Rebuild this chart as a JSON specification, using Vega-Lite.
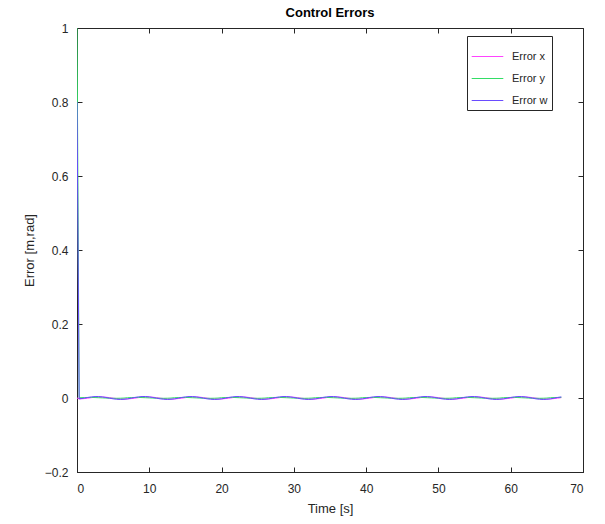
{
"$schema": "https://vega.github.io/schema/vega-lite/v6.json",
"autosize": {"type": "none"},
"padding": {"left": 77, "top": 28, "right": 22, "bottom": 52},
"width": 506,
"height": 444,
"background": "white",
"title": {"text": "Control Errors", "font": "Liberation Sans", "fontSize": 13, "fontWeight": "bold", "color": "#000000", "offset": 2},
"config": {
  "view": {"stroke": "#262626", "strokeWidth": 1},
  "axis": {"grid": false, "labelFont": "Liberation Sans", "titleFont": "Liberation Sans", "labelFontSize": 12, "titleFontSize": 13, "labelColor": "#262626", "titleColor": "#262626", "domainColor": "#262626", "tickColor": "#262626", "titleFontWeight": "normal"}
},
"data": {"values": [
{"t":0,"x":0,"y":1,"w":0.8},
{"t":0.3,"x":-0.0025,"y":0.0008,"w":-0.0023},
{"t":1,"x":-0.0016,"y":0.0012,"w":-0.0005},
{"t":1.5,"x":-0.0004,"y":0.0015,"w":0.0014},
{"t":2,"x":0.001,"y":0.0015,"w":0.003},
{"t":2.5,"x":0.0021,"y":0.0012,"w":0.0039},
{"t":3,"x":0.0027,"y":0.0008,"w":0.0039},
{"t":3.5,"x":0.0027,"y":0.0003,"w":0.003},
{"t":4,"x":0.0021,"y":-0.0002,"w":0.0014},
{"t":4.5,"x":0.001,"y":-0.0006,"w":-0.0005},
{"t":5,"x":-0.0004,"y":-0.0008,"w":-0.0023},
{"t":5.5,"x":-0.0016,"y":-0.0008,"w":-0.0035},
{"t":6,"x":-0.0025,"y":-0.0006,"w":-0.004},
{"t":6.5,"x":-0.0028,"y":-0.0002,"w":-0.0035},
{"t":7,"x":-0.0025,"y":0.0008,"w":-0.0023},
{"t":7.5,"x":-0.0016,"y":0.0012,"w":-0.0005},
{"t":8,"x":-0.0004,"y":0.0015,"w":0.0014},
{"t":8.5,"x":0.001,"y":0.0015,"w":0.0031},
{"t":9,"x":0.0021,"y":0.0012,"w":0.004},
{"t":9.5,"x":0.0027,"y":0.0008,"w":0.004},
{"t":10,"x":0.0027,"y":0.0003,"w":0.0031},
{"t":10.5,"x":0.0021,"y":-0.0002,"w":0.0014},
{"t":11,"x":0.001,"y":-0.0006,"w":-0.0005},
{"t":11.5,"x":-0.0004,"y":-0.0008,"w":-0.0023},
{"t":12,"x":-0.0016,"y":-0.0008,"w":-0.0035},
{"t":12.5,"x":-0.0025,"y":-0.0006,"w":-0.004},
{"t":13,"x":-0.0028,"y":-0.0002,"w":-0.0035},
{"t":13.5,"x":-0.0025,"y":0.0008,"w":-0.0023},
{"t":14,"x":-0.0016,"y":0.0012,"w":-0.0005},
{"t":14.5,"x":-0.0004,"y":0.0015,"w":0.0014},
{"t":15,"x":0.001,"y":0.0015,"w":0.003},
{"t":15.5,"x":0.0021,"y":0.0012,"w":0.0039},
{"t":16,"x":0.0027,"y":0.0008,"w":0.0039},
{"t":16.5,"x":0.0027,"y":0.0003,"w":0.003},
{"t":17,"x":0.0021,"y":-0.0002,"w":0.0014},
{"t":17.5,"x":0.001,"y":-0.0006,"w":-0.0005},
{"t":18,"x":-0.0004,"y":-0.0008,"w":-0.0023},
{"t":18.5,"x":-0.0016,"y":-0.0008,"w":-0.0035},
{"t":19,"x":-0.0025,"y":-0.0006,"w":-0.004},
{"t":19.5,"x":-0.0028,"y":-0.0002,"w":-0.0035},
{"t":20,"x":-0.0025,"y":0.0008,"w":-0.0023},
{"t":20.5,"x":-0.0016,"y":0.0012,"w":-0.0005},
{"t":21,"x":-0.0004,"y":0.0015,"w":0.0014},
{"t":21.5,"x":0.001,"y":0.0015,"w":0.003},
{"t":22,"x":0.0021,"y":0.0012,"w":0.0039},
{"t":22.5,"x":0.0027,"y":0.0008,"w":0.0039},
{"t":23,"x":0.0027,"y":0.0003,"w":0.003},
{"t":23.5,"x":0.0021,"y":-0.0002,"w":0.0014},
{"t":24,"x":0.001,"y":-0.0006,"w":-0.0005},
{"t":24.5,"x":-0.0004,"y":-0.0008,"w":-0.0023},
{"t":25,"x":-0.0016,"y":-0.0008,"w":-0.0035},
{"t":25.5,"x":-0.0025,"y":-0.0006,"w":-0.004},
{"t":26,"x":-0.0028,"y":-0.0002,"w":-0.0035},
{"t":26.5,"x":-0.0025,"y":0.0008,"w":-0.0023},
{"t":27,"x":-0.0016,"y":0.0012,"w":-0.0005},
{"t":27.5,"x":-0.0004,"y":0.0015,"w":0.0014},
{"t":28,"x":0.001,"y":0.0015,"w":0.003},
{"t":28.5,"x":0.0021,"y":0.0012,"w":0.0039},
{"t":29,"x":0.0027,"y":0.0008,"w":0.0039},
{"t":29.5,"x":0.0027,"y":0.0003,"w":0.003},
{"t":30,"x":0.0021,"y":-0.0002,"w":0.0014},
{"t":30.5,"x":0.001,"y":-0.0006,"w":-0.0005},
{"t":31,"x":-0.0004,"y":-0.0008,"w":-0.0023},
{"t":31.5,"x":-0.0016,"y":-0.0008,"w":-0.0035},
{"t":32,"x":-0.0025,"y":-0.0006,"w":-0.004},
{"t":32.5,"x":-0.0028,"y":-0.0002,"w":-0.0035},
{"t":33,"x":-0.0025,"y":0.0008,"w":-0.0023},
{"t":33.5,"x":-0.0016,"y":0.0012,"w":-0.0005},
{"t":34,"x":-0.0004,"y":0.0015,"w":0.0014},
{"t":34.5,"x":0.001,"y":0.0015,"w":0.003},
{"t":35,"x":0.0021,"y":0.0012,"w":0.0039},
{"t":35.5,"x":0.0027,"y":0.0008,"w":0.0039},
{"t":36,"x":0.0027,"y":0.0003,"w":0.003},
{"t":36.5,"x":0.0021,"y":-0.0002,"w":0.0014},
{"t":37,"x":0.001,"y":-0.0006,"w":-0.0005},
{"t":37.5,"x":-0.0004,"y":-0.0008,"w":-0.0023},
{"t":38,"x":-0.0016,"y":-0.0008,"w":-0.0035},
{"t":38.5,"x":-0.0025,"y":-0.0006,"w":-0.004},
{"t":39,"x":-0.0028,"y":-0.0002,"w":-0.0035},
{"t":39.5,"x":-0.0025,"y":0.0008,"w":-0.0023},
{"t":40,"x":-0.0016,"y":0.0012,"w":-0.0005},
{"t":40.5,"x":-0.0004,"y":0.0015,"w":0.0014},
{"t":41,"x":0.001,"y":0.0015,"w":0.003},
{"t":41.5,"x":0.0021,"y":0.0012,"w":0.0039},
{"t":42,"x":0.0027,"y":0.0008,"w":0.0039},
{"t":42.5,"x":0.0027,"y":0.0003,"w":0.003},
{"t":43,"x":0.0021,"y":-0.0002,"w":0.0014},
{"t":43.5,"x":0.001,"y":-0.0006,"w":-0.0005},
{"t":44,"x":-0.0004,"y":-0.0008,"w":-0.0023},
{"t":44.5,"x":-0.0016,"y":-0.0008,"w":-0.0035},
{"t":45,"x":-0.0025,"y":-0.0006,"w":-0.004},
{"t":45.5,"x":-0.0028,"y":-0.0002,"w":-0.0035},
{"t":46,"x":-0.0025,"y":0.0008,"w":-0.0023},
{"t":46.5,"x":-0.0016,"y":0.0012,"w":-0.0005},
{"t":47,"x":-0.0004,"y":0.0015,"w":0.0014},
{"t":47.5,"x":0.001,"y":0.0015,"w":0.003},
{"t":48,"x":0.0021,"y":0.0012,"w":0.0039},
{"t":48.5,"x":0.0027,"y":0.0008,"w":0.0039},
{"t":49,"x":0.0027,"y":0.0003,"w":0.003},
{"t":49.5,"x":0.0021,"y":-0.0002,"w":0.0014},
{"t":50,"x":0.001,"y":-0.0006,"w":-0.0005},
{"t":50.5,"x":-0.0004,"y":-0.0008,"w":-0.0023},
{"t":51,"x":-0.0016,"y":-0.0008,"w":-0.0035},
{"t":51.5,"x":-0.0025,"y":-0.0006,"w":-0.004},
{"t":52,"x":-0.0028,"y":-0.0002,"w":-0.0035},
{"t":52.5,"x":-0.0025,"y":0.0008,"w":-0.0023},
{"t":53,"x":-0.0016,"y":0.0012,"w":-0.0005},
{"t":53.5,"x":-0.0004,"y":0.0015,"w":0.0014},
{"t":54,"x":0.001,"y":0.0015,"w":0.003},
{"t":54.5,"x":0.0021,"y":0.0012,"w":0.0039},
{"t":55,"x":0.0027,"y":0.0008,"w":0.0039},
{"t":55.5,"x":0.0027,"y":0.0003,"w":0.003},
{"t":56,"x":0.0021,"y":-0.0002,"w":0.0014},
{"t":56.5,"x":0.001,"y":-0.0006,"w":-0.0005},
{"t":57,"x":-0.0004,"y":-0.0008,"w":-0.0023},
{"t":57.5,"x":-0.0016,"y":-0.0008,"w":-0.0035},
{"t":58,"x":-0.0025,"y":-0.0006,"w":-0.004},
{"t":58.5,"x":-0.0028,"y":-0.0002,"w":-0.0035},
{"t":59,"x":-0.0025,"y":0.0008,"w":-0.0023},
{"t":59.5,"x":-0.0016,"y":0.0012,"w":-0.0005},
{"t":60,"x":-0.0004,"y":0.0015,"w":0.0014},
{"t":60.5,"x":0.001,"y":0.0015,"w":0.003},
{"t":61,"x":0.0021,"y":0.0012,"w":0.0039},
{"t":61.5,"x":0.0027,"y":0.0008,"w":0.0039},
{"t":62,"x":0.0027,"y":0.0003,"w":0.003},
{"t":62.5,"x":0.0021,"y":-0.0002,"w":0.0014},
{"t":63,"x":0.001,"y":-0.0006,"w":-0.0005},
{"t":63.5,"x":-0.0004,"y":-0.0008,"w":-0.0023},
{"t":64,"x":-0.0016,"y":-0.0008,"w":-0.0035},
{"t":64.5,"x":-0.0025,"y":-0.0006,"w":-0.004},
{"t":65,"x":-0.0028,"y":-0.0002,"w":-0.0035},
{"t":65.5,"x":-0.0025,"y":0.0008,"w":-0.0023},
{"t":66,"x":-0.0016,"y":0.0012,"w":-0.0005},
{"t":66.5,"x":-0.0004,"y":0.0015,"w":0.0014},
{"t":67,"x":0.001,"y":0.0015,"w":0.003}
]},
"transform": [
  {"fold": ["x", "y", "w"], "as": ["k", "v"]},
  {"lookup": "k", "from": {"data": {"values": [{"k": "x", "series": "Error x"}, {"k": "y", "series": "Error y"}, {"k": "w", "series": "Error w"}]}, "key": "k", "fields": ["series"]}}
],
"layer": [
  {
    "mark": {"type": "line", "strokeWidth": 1, "clip": true},
    "encoding": {
      "x": {"field": "t", "type": "quantitative", "scale": {"domain": [0, 70], "nice": false, "zero": false},
            "axis": {"orient": "bottom", "values": [0,10,20,30,40,50,60,70], "tickSize": -5, "labelPadding": 16, "domain": true, "title": "Time [s]", "titlePadding": 8}},
      "y": {"field": "v", "type": "quantitative", "scale": {"domain": [-0.2, 1], "nice": false, "zero": false},
            "axis": {"orient": "left", "values": [-0.2,0,0.2,0.4,0.6,0.8,1], "format": "~g", "tickSize": -5, "labelPadding": 14, "domain": true, "title": "Error [m,rad]", "titlePadding": 8}},
      "color": {"field": "series", "type": "nominal",
        "scale": {"domain": ["Error x", "Error y", "Error w"], "range": ["#ff44ff", "#33dd66", "#6a4cff"]},
        "legend": {"orient": "none", "legendX": 390, "legendY": 8, "title": null, "symbolType": "stroke", "symbolSize": 1000, "symbolStrokeWidth": 1, "labelFont": "Liberation Sans", "labelFontSize": 11, "labelColor": "#262626", "strokeColor": "#262626", "fillColor": "white", "padding": 4, "rowPadding": -1, "labelOffset": 8}}
    }
  },
  {
    "mark": {"type": "point", "opacity": 0},
    "encoding": {
      "x": {"field": "t", "type": "quantitative", "axis": {"orient": "top", "values": [0,10,20,30,40,50,60,70], "tickSize": -5, "labels": false, "domain": false, "title": null}},
      "y": {"field": "v", "type": "quantitative", "axis": {"orient": "right", "values": [-0.2,0,0.2,0.4,0.6,0.8,1], "tickSize": -5, "labels": false, "domain": false, "title": null}}
    }
  }
],
"resolve": {"axis": {"x": "independent", "y": "independent"}}
}
